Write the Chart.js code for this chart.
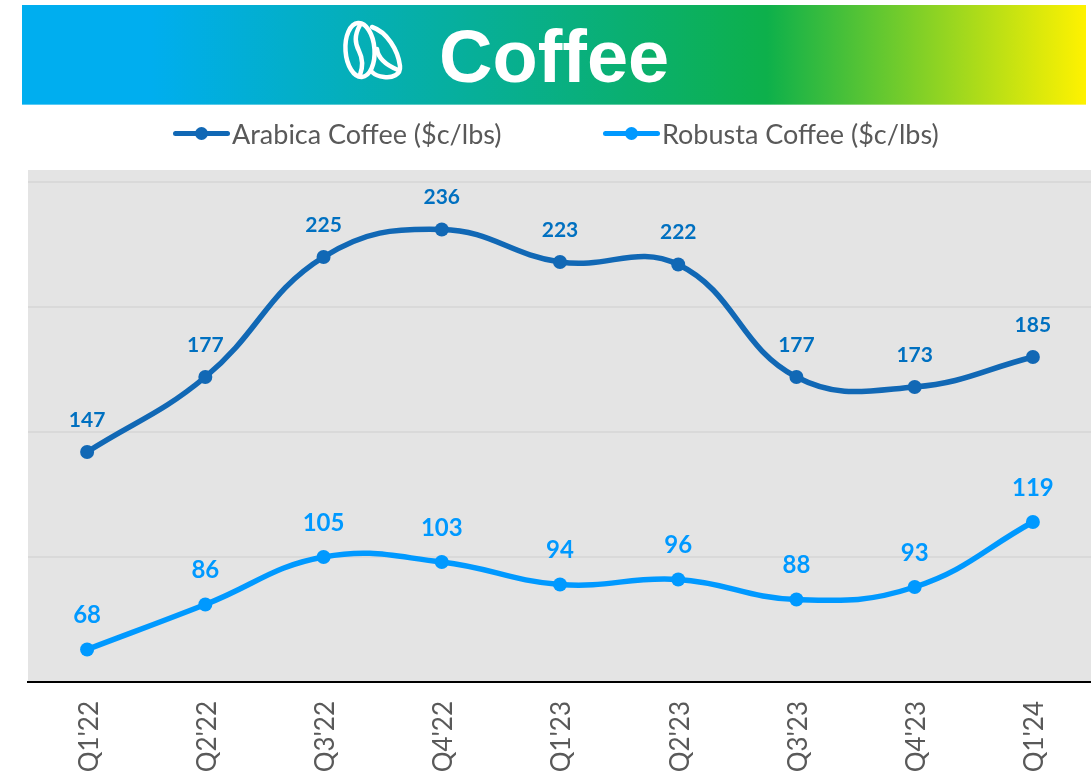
<!DOCTYPE html>
<html>
<head>
<meta charset="utf-8">
<title>Coffee</title>
<script src="https://cdn.jsdelivr.net/npm/chart.js@4"></script>
<style>
  html, body { margin: 0; padding: 0; background: #fff; overflow: hidden; }
  #page { position: relative; width: 1091px; height: 773px; overflow: hidden; }
  #banner {
    position: absolute; left: 22px; top: 5px; width: 1064px; height: 99px;
    background: linear-gradient(90deg, #00aeef 0%, #00aeef 12%, #0db04b 70%, #fff200 100%);
    border-bottom: 1px solid rgba(255,255,255,0.35);
  }
  #banner span {
    position: absolute; left: 417px; top: 7px; color: #fff;
    font: bold 74px/90px "Liberation Sans", Arial, sans-serif;
  }
  #banner svg { position: absolute; left: 318px; top: 12px; }
  #wrap { position: absolute; left: 0; top: 0; width: 1099px; height: 773px; }
  #legend { position: absolute; left: 173px; top: 115px; display: flex; z-index: 2; }
  #legend .item { display: flex; align-items: center; width: 430px; height: 36px;
    color: #595959; font: 27px Lato, sans-serif; white-space: nowrap; }
  #legend .key { position: relative; width: 57px; height: 5px; border-radius: 3px; margin-right: 2px; }
  #legend .key i { position: absolute; left: 22px; top: -4px; width: 13px; height: 13px; border-radius: 50%; background: inherit; }
</style>
</head>
<body>
<div id="page">
  <div id="banner">
    <svg width="66" height="66" viewBox="0 0 66 66" fill="none" stroke="#fff" stroke-width="4.5" stroke-linecap="round" stroke-linejoin="round">
      <ellipse cx="20" cy="33" rx="14.5" ry="27" transform="rotate(-4 20 33)"/>
      <path d="M20 8 C14 19 15 26 19 34 C23 42 23 50 20 58"/>
      <path d="M32 10 C47 15 58 33 60 49 C61 58 52 61 44 60 C39 59.500 35 58 32 55"/>
      <path d="M37 32 C38 41 46 48 58 53"/>
    </svg>
    <span>Coffee</span>
  </div>
  <div id="wrap"><canvas id="linechart"></canvas></div>
  <div id="legend"></div>
</div>

<script>
var quarters = ["Q1'22", "Q2'22", "Q3'22", "Q4'22", "Q1'23", "Q2'23", "Q3'23", "Q4'23", "Q1'24"];
var arabica = [147, 177, 225, 236, 223, 222, 177, 173, 185];
var robusta = [68, 86, 105, 103, 94, 96, 88, 93, 119];
var yTicks = [55, 105, 155, 205, 255];
var yMin = 55, yMax = 259.8;

var arabicaColor = "#1168b5";
var robustaColor = "#0099ff";

// grey panel behind the plot
const panelBackground = {
  id: "panelBackground",
  beforeDraw(chart) {
    let a = chart.chartArea;
    chart.ctx.save();
    chart.ctx.fillStyle = "#e4e4e4";
    chart.ctx.fillRect(a.left, a.top, a.right - a.left, a.bottom - a.top);
    chart.ctx.restore();
  },
};

// value labels above each point
const valueLabels = {
  id: "valueLabels",
  afterDatasetsDraw(chart) {
    let ctx = chart.ctx;
    ctx.save();
    ctx.textAlign = "center";
    ctx.textBaseline = "middle";
    chart.data.datasets.forEach((ds, i) => {
      ctx.fillStyle = ds.labelColor;
      ctx.font = "bold " + ds.labelSize + "px Lato, sans-serif";
      chart.getDatasetMeta(i).data.forEach((pt, j) => {
        ctx.fillText(ds.data[j], pt.x, pt.y - ds.labelGap);
      });
    });
    ctx.restore();
  },
};

// html legend, the keys need a line with a dot and a wide gap between items
const htmlLegend = {
  id: "htmlLegend",
  afterUpdate(chart) {
    let box = document.getElementById("legend");
    box.innerHTML = "";
    chart.data.datasets.forEach((ds) => {
      let item = document.createElement("div");
      item.className = "item";
      let key = document.createElement("div");
      key.className = "key";
      key.style.background = ds.borderColor;
      key.appendChild(document.createElement("i"));
      item.appendChild(key);
      item.appendChild(document.createTextNode(ds.label));
      box.appendChild(item);
    });
  },
};

let ctx = document.getElementById("linechart").getContext("2d");

let chart = new Chart(ctx, {
  type: "line",
  data: {
    labels: quarters,
    datasets: [
      {
        label: "Arabica Coffee ($c/lbs)",
        data: arabica,
        borderColor: arabicaColor,
        backgroundColor: arabicaColor,
        borderWidth: 5.5,
        tension: 0.42,
        pointRadius: 7,
        pointBorderWidth: 0,
        fill: false,
        labelColor: "#0070c0",
        labelSize: 21,
        labelGap: 32,
      },
      {
        label: "Robusta Coffee ($c/lbs)",
        data: robusta,
        borderColor: robustaColor,
        backgroundColor: robustaColor,
        borderWidth: 5.5,
        tension: 0.42,
        pointRadius: 7,
        pointBorderWidth: 0,
        fill: false,
        labelColor: robustaColor,
        labelSize: 24,
        labelGap: 34,
      },
    ],
  },
  options: {
    responsive: true,
    maintainAspectRatio: false,
    animation: false,
    layout: { padding: { left: 28, right: 0, top: 170, bottom: 0 } },
    plugins: {
      tooltip: { enabled: false },
      legend: { display: false },
    },
    scales: {
      x: {
        offset: true,
        border: { color: "#000", width: 2 },
        grid: { display: false },
        ticks: {
          color: "#595959",
          font: { family: "Lato, sans-serif", size: 26 },
          minRotation: 90,
          maxRotation: 90,
          autoSkip: false,
          padding: 11,
          labelOffset: 2,
        },
        afterFit(axis) {
          axis.height = 91;
          axis.paddingLeft = 0;
          axis.paddingRight = 0;
        },
      },
      y: {
        min: yMin,
        max: yMax,
        border: { display: false },
        grid: { color: "#d9d9d9", lineWidth: 2, drawTicks: false },
        ticks: { display: false },
        afterBuildTicks(axis) {
          axis.ticks = yTicks.map((v) => ({ value: v }));
        },
      },
    },
  },
  plugins: [panelBackground, valueLabels, htmlLegend],
});
</script>
</body>
</html>
